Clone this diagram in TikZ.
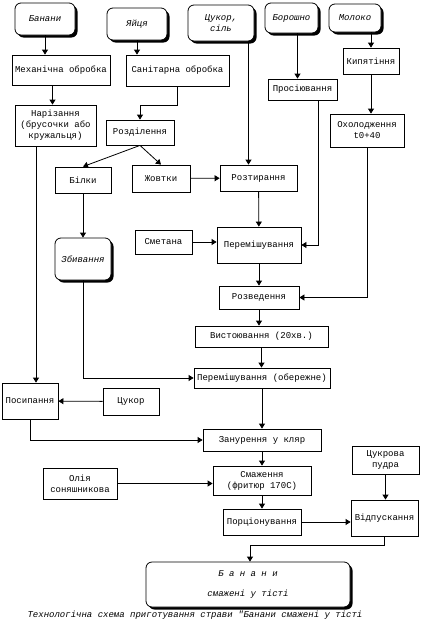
\documentclass[tikz,border=0pt]{standalone}
\usepackage{fontspec}
\setmonofont{Liberation Mono}
\usetikzlibrary{arrows.meta,shadows}

\begin{document}
\begin{tikzpicture}[x=1pt,y=-1pt,
  every node/.style={font=\ttfamily\fontsize{9}{11}\selectfont, inner sep=1pt, align=center},
  box/.style={draw, line width=0.8pt, fill=white},
  rbox/.style={draw, line width=0.8pt, rounded corners=6pt, fill=white,
    drop shadow={shadow xshift=2.5pt, shadow yshift=-2.5pt, fill=black, opacity=1},
    font=\ttfamily\itshape\fontsize{9}{11}\selectfont},
  arr/.style={-{Triangle[width=6pt,length=5pt]}, line width=0.8pt}]
  \useasboundingbox[fill=white] (0,0) rectangle (421,624);

  % raw materials
  \node[rbox, minimum width=60, minimum height=32] (banany) at (45,19) {Банани};
  \node[rbox, minimum width=60, minimum height=32] (yaitsia) at (137,24) {Яйця};
  \node[rbox, minimum width=66, minimum height=36] (tsukorsil) at (221,23) {Цукор,\\сіль};
  \node[rbox, minimum width=53, minimum height=30] (boroshno) at (291.5,18) {Борошно};
  \node[rbox, minimum width=52, minimum height=28] (moloko) at (355,18) {Молоко};

  % processing steps
  \node[box, minimum width=98, minimum height=30] (mekh) at (61,70) {Механічна обробка};
  \node[box, minimum width=103, minimum height=31] (sanit) at (177.5,70.5) {Санітарна обробка};
  \node[box, minimum width=81, minimum height=41] (nariz) at (55.5,125.5) {Нарізання\\(брусочки або\\кружальця)};
  \node[box, minimum width=68, minimum height=25] (rozdil) at (140,132.5) {Розділення};
  \node[box, minimum width=69, minimum height=21] (prosiyuv) at (302.5,89.5) {Просіювання};
  \node[box, minimum width=56, minimum height=26] (kypyat) at (371,61) {Кипятіння};
  \node[box, minimum width=74, minimum height=33] (okholod) at (367,130.5) {Охолодження\\t0+40};
  \node[box, minimum width=56, minimum height=26] (bilky) at (83,180) {Білки};
  \node[box, minimum width=58, minimum height=27] (zhovtky) at (161,178.5) {Жовтки};
  \node[box, minimum width=77, minimum height=26] (roztyr) at (258.5,178) {Розтирання};
  \node[rbox, minimum width=56, minimum height=42] (zbyv) at (83,259) {Збивання};
  \node[box, minimum width=57, minimum height=24] (smetana) at (163.5,242) {Сметана};
  \node[box, minimum width=84, minimum height=36] (peremish) at (259,245) {Перемішування};
  \node[box, minimum width=80, minimum height=23] (rozved) at (259,297.5) {Розведення};
  \node[box, minimum width=133, minimum height=21] (vystoyuv) at (261.5,336.5) {Вистоювання (20хв.)};
  \node[box, minimum width=136, minimum height=20] (peremish2) at (262,378) {Перемішування (обережне)};
  \node[box, minimum width=56, minimum height=36] (posyp) at (30,401) {Посипання};
  \node[box, minimum width=56, minimum height=27] (tsukor) at (131,401.5) {Цукор};
  \node[box, minimum width=118, minimum height=22] (zanur) at (262,440) {Занурення у кляр};
  \node[box, minimum width=98, minimum height=29] (smazh) at (262,480.5) {Смаження\\(фритюр 170С)};
  \node[box, minimum width=74, minimum height=31] (oliya) at (80,483.5) {Олія\\соняшникова};
  \node[box, minimum width=78, minimum height=26] (portsion) at (262,522) {Порціонування};
  \node[box, minimum width=67, minimum height=28] (tsukrova) at (385.5,460) {Цукрова\\пудра};
  \node[box, minimum width=67, minimum height=36] (vidpusk) at (384.5,518) {Відпускання};

  % result
  \node[rbox, minimum width=204, minimum height=45] (gotove) at (248,584.5) {Б а н а н и\\[9pt]смажені у тісті};
  \node[font=\ttfamily\itshape\fontsize{9}{11}\selectfont] (caption) at (195,615) {Технологічна схема приготування страви "Банани смажені у тісті};

  % connectors
  \draw[arr] (banany.south) -- (banany.south |- mekh.north);
  \draw[arr] (yaitsia.south) -- (yaitsia.south |- sanit.north);
  \draw[arr] ([xshift=-10pt]roztyr.north |- tsukorsil.south) -- ([xshift=-10pt]roztyr.north);
  \draw[arr] ([xshift=6pt]boroshno.south) -- ([xshift=6pt]boroshno.south |- prosiyuv.north);
  \draw[arr] (kypyat.north |- moloko.south) -- (kypyat.north);
  \draw[arr] (kypyat.south) -- (kypyat.south |- okholod.north);
  \draw[arr] ([xshift=-3pt]nariz.north |- mekh.south) -- ([xshift=-3pt]nariz.north);
  \draw[arr] (sanit.south) -- ++(0,19) -| (rozdil.north);
  \draw[arr] (rozdil.south) -- (bilky.north);
  \draw[arr] (rozdil.south) -- (zhovtky.north);
  \draw[arr] (zhovtky) -- (roztyr);
  \draw[arr] (bilky) -- (zbyv);
  \draw[arr] (smetana.east) -- (smetana.east -| peremish.west);
  \draw[arr] (roztyr) -- (peremish);
  \draw[arr] ([xshift=16pt]prosiyuv.south) |- (peremish.east);
  \draw[arr] (okholod.south) |- (rozved.east);
  \draw[arr] (peremish) -- (rozved);
  \draw[arr] (rozved.south) -- (rozved.south |- vystoyuv.north);
  \draw[arr] (vystoyuv.south) -- (vystoyuv.south |- peremish2.north);
  \draw[arr] (zbyv.south) |- (peremish2.west);
  \draw[arr] ([xshift=-19.5pt]nariz.south) -- ([xshift=-19.5pt]nariz.south |- posyp.north);
  \draw[arr] (tsukor) -- (posyp);
  \draw[arr] (posyp.south) |- (zanur.west);
  \draw[arr] (peremish2) -- (zanur);
  \draw[arr] (zanur) -- (smazh);
  \draw[arr] (oliya.east) -- (oliya.east -| smazh.west);
  \draw[arr] (smazh) -- (portsion);
  \draw[arr] (portsion.east) -- (portsion.east -| vidpusk.west);
  \draw[arr] (tsukrova.south) -- (tsukrova.south |- vidpusk.north);
  \draw[arr] (vidpusk.south) -- ++(0,9) -| ([xshift=2pt]gotove.north);
\end{tikzpicture}
\end{document}
